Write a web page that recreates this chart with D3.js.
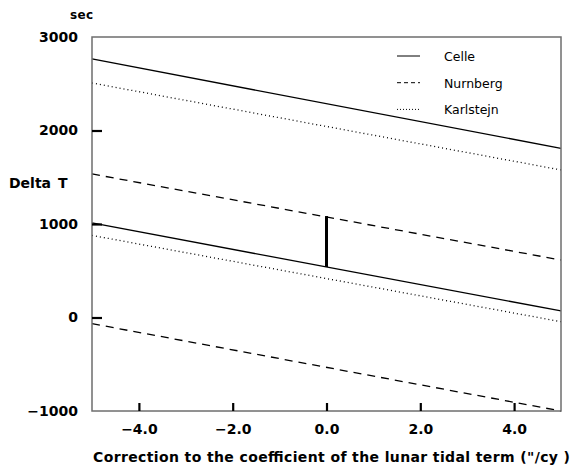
<!DOCTYPE html>
<html>
<head>
<meta charset="utf-8">
<script src="https://cdn.jsdelivr.net/npm/d3@7"></script>
<style>
  body { margin: 0; background: #fff; }
  svg text { font-family: "DejaVu Sans", sans-serif; font-weight: bold; fill: #000; }
</style>
</head>
<body>
<div id="chart"></div>
<script>
// values: each line given by its end points at x = -5 and x = 5
var xEnds = [-5, 5];
var celleUpper = [2765, 1809];
var celleLower = [1011, 70];
var nurnbergUpper = [1535, 615];
var nurnbergLower = [-66, -1000];
var karlstejnUpper = [2508, 1578];
var karlstejnLower = [878, -45];
var markerX = 0, markerRange = [540, 1085];

var xTicks = [-4, -2, 0, 2, 4];
var yTicks = [-1000, 0, 1000, 2000, 3000];
var legendNames = ["Celle", "Nurnberg", "Karlstejn"];

var width = 574, height = 467;
var margin = {top: 37, right: 13, bottom: 56, left: 92};

var svg = d3.select("#chart").append("svg")
    .attr("width", width)
    .attr("height", height);

var x = d3.scaleLinear().domain([-5, 5]).range([margin.left, width - margin.right]);
var y = d3.scaleLinear().domain([-1000, 3000]).range([height - margin.bottom, margin.top]);

var styles = {
    "Celle": null,
    "Nurnberg": "8,6",
    "Karlstejn": "1,3"
};

var series = [
    {name: "Celle", v: celleUpper},
    {name: "Celle", v: celleLower},
    {name: "Nurnberg", v: nurnbergUpper},
    {name: "Nurnberg", v: nurnbergLower},
    {name: "Karlstejn", v: karlstejnUpper},
    {name: "Karlstejn", v: karlstejnLower}
];

var line = d3.line()
    .x(function (d, i) { return x(xEnds[i]); })
    .y(function (d) { return y(d); });

svg.append("g")
    .selectAll("path")
    .data(series)
    .enter()
    .append("path")
    .attr("d", function (d) { return line(d.v); })
    .attr("fill", "none")
    .attr("stroke", "#000")
    .attr("stroke-width", 1.3)
    .attr("stroke-dasharray", function (d) { return styles[d.name]; });

// the thick vertical bar at x = 0
svg.append("line")
    .attr("x1", x(markerX)).attr("x2", x(markerX))
    .attr("y1", y(markerRange[0])).attr("y2", y(markerRange[1]))
    .attr("stroke", "#000")
    .attr("stroke-width", 3);

// frame
svg.append("rect")
    .attr("x", x(-5)).attr("y", y(3000))
    .attr("width", x(5) - x(-5)).attr("height", y(-1000) - y(3000))
    .attr("fill", "none")
    .attr("stroke", "#6e6e6e")
    .attr("stroke-width", 1.5);

// y axis, ticks pointing inward
var yAxis = svg.append("g")
    .attr("class", "yScale axis")
    .attr("transform", "translate(" + x(-5) + ",0)")
    .call(d3.axisLeft(y).tickValues(yTicks).tickSizeInner(-10).tickSizeOuter(0).tickPadding(14)
        .tickFormat(d3.format("d")));
yAxis.select(".domain").remove();
yAxis.selectAll(".tick line")
    .attr("stroke", "#000")
    .attr("stroke-width", 2.2)
    .attr("opacity", function (d) { return (d === 3000 || d === -1000) ? 0 : 1; });
yAxis.selectAll(".tick text")
    .style("font-size", "14px")
    .text(function (d) { return d < 0 ? "\u2212" + Math.abs(d) : d; });

// x axis
var xAxis = svg.append("g")
    .attr("class", "xScale axis")
    .attr("transform", "translate(0," + y(-1000) + ")")
    .call(d3.axisBottom(x).tickValues(xTicks).tickSizeInner(-8).tickSizeOuter(0).tickPadding(13)
        .tickFormat(function (d) { return (d < 0 ? "\u2212" : "") + Math.abs(d).toFixed(1); }));
xAxis.select(".domain").remove();
xAxis.selectAll(".tick line")
    .attr("stroke", "#000")
    .attr("stroke-width", 2.2);
xAxis.selectAll(".tick text")
    .style("font-size", "14px");

// labels
svg.append("text")
    .attr("x", 70).attr("y", 19)
    .attr("textLength", 23)
    .style("font-size", "12px")
    .text("sec");

var deltaT = svg.append("text")
    .attr("y", 188)
    .style("font-size", "14px");
deltaT.append("tspan").attr("x", 9).text("Delta");
deltaT.append("tspan").attr("x", 58).text("T");

svg.append("text")
    .attr("x", 93).attr("y", 462)
    .attr("textLength", 477)
    .attr("lengthAdjust", "spacing")
    .style("font-size", "14px")
    .text("Correction to the coefficient of the lunar tidal term (\"/cy )");

// legend
var legend = svg.append("g")
    .selectAll("g")
    .data(legendNames)
    .enter()
    .append("g")
    .attr("transform", function (d, i) { return "translate(397," + (56 + i * 26.7) + ")"; });

legend.append("line")
    .attr("x1", 0).attr("x2", 23)
    .attr("stroke", "#000")
    .attr("stroke-width", 1)
    .attr("stroke-dasharray", function (d) { return d === "Nurnberg" ? "4,3" : (d === "Karlstejn" ? "1,2" : null); });

legend.append("text")
    .attr("x", 47).attr("y", 5)
    .style("font-size", "12.5px")
    .style("font-weight", "normal")
    .text(function (d) { return d; });
</script>
</body>
</html>
